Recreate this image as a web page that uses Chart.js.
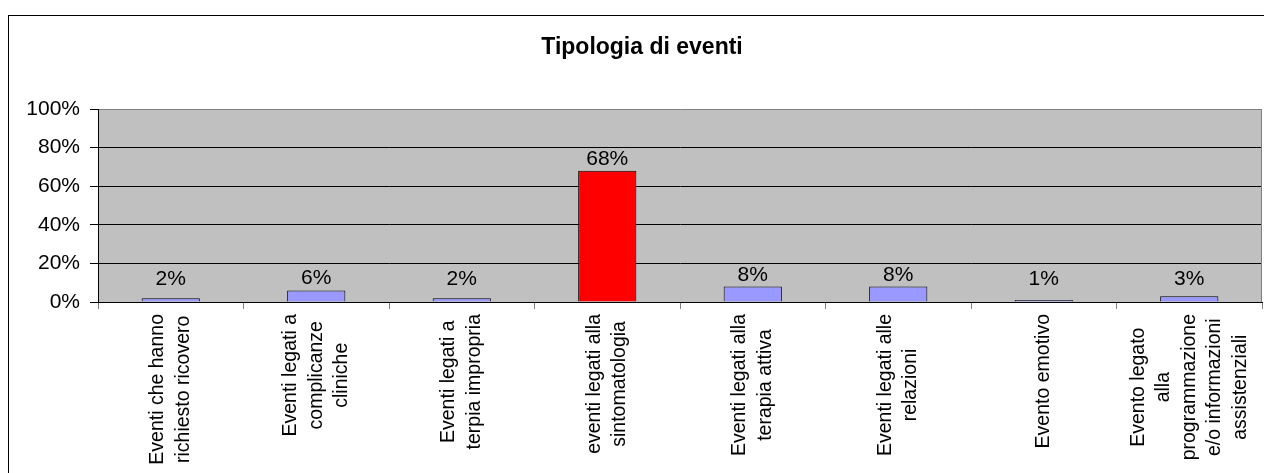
<!DOCTYPE html>
<html>
<head>
<meta charset="utf-8">
<script src="https://cdn.jsdelivr.net/npm/chart.js@4/dist/chart.umd.min.js"></script>
<style>
    html, body { margin: 0; padding: 0; background: #fff; }
    #wrap { width: 1264px; height: 473px; position: relative; }
</style>
</head>
<body>
<div id="wrap"><canvas id="chart"></canvas></div>
<script>
// category labels, one array of lines per bar
const categories = [
    ["Eventi che hanno", "richiesto ricovero"],
    ["Eventi legati a", "complicanze", "cliniche"],
    ["Eventi legati a", "terpia impropria"],
    ["eventi legati alla", "sintomatologia"],
    ["Eventi legati alla", "terapia attiva"],
    ["Eventi legati alle", "relazioni"],
    ["Evento emotivo"],
    ["Evento legato", "alla", "programmazione", "e/o informazioni", "assistenziali"]
];
// percentages
const values = [2, 6, 2, 68, 8, 8, 1, 3];
const yTicks = [0, 20, 40, 60, 80, 100];
const chartTitle = "Tipologia di eventi";

const FONT = "'Liberation Sans', Arial, sans-serif";

//draws white page, outer frame, title and grey plot background
const backgroundPlugin = {
    id: "backgroundPlugin",
    beforeDraw(chart) {
        const ctx = chart.ctx;
        const area = chart.chartArea;
        ctx.save();
        ctx.fillStyle = "#ffffff";
        ctx.fillRect(0, 0, chart.width, chart.height);
        // frame goes past the right and bottom edge, like the cropped original
        ctx.strokeStyle = "#000000";
        ctx.lineWidth = 1;
        ctx.strokeRect(8.5, 15.5, 1268, 520);
        ctx.fillStyle = "#000000";
        ctx.font = "bold 23px " + FONT;
        ctx.textAlign = "center";
        ctx.textBaseline = "alphabetic";
        ctx.fillText(chartTitle, 8 + 1268 / 2, 54);
        ctx.fillStyle = "#C0C0C0";
        ctx.fillRect(area.left, area.top, area.right - area.left, area.bottom - area.top);
        ctx.restore();
    },
    afterDraw(chart) {
        const ctx = chart.ctx;
        const area = chart.chartArea;
        ctx.save();
        //right edge of plot
        ctx.strokeStyle = "#808080";
        ctx.lineWidth = 1;
        ctx.beginPath();
        ctx.moveTo(Math.round(area.right) - 0.5, area.top);
        ctx.lineTo(Math.round(area.right) - 0.5, area.bottom);
        ctx.stroke();
        ctx.restore();
    }
};

//value labels over each bar
const valueLabelPlugin = {
    id: "valueLabelPlugin",
    afterDatasetsDraw(chart) {
        const ctx = chart.ctx;
        const meta = chart.getDatasetMeta(0);
        const zeroY = chart.scales.y.getPixelForValue(0);
        ctx.save();
        ctx.fillStyle = "#000000";
        ctx.font = "21px " + FONT;
        ctx.textAlign = "center";
        ctx.textBaseline = "alphabetic";
        meta.data.forEach((bar, i) => {
            const y = Math.min(bar.y - 6, zeroY - 17);
            ctx.fillText(values[i] + "%", bar.x, y);
        });
        ctx.restore();
    }
};

//rotated multi-line category labels, lines centred on each other
const categoryLabelPlugin = {
    id: "categoryLabelPlugin",
    afterDraw(chart) {
        const ctx = chart.ctx;
        const xScale = chart.scales.x;
        const lineHeight = 25.5;
        ctx.save();
        ctx.fillStyle = "#000000";
        ctx.font = "19.5px " + FONT;
        ctx.textAlign = "center";
        ctx.textBaseline = "middle";
        chart.data.labels.forEach((lines, i) => {
            const x = xScale.getPixelForTick(i);
            const longest = Math.max(...lines.map(l => ctx.measureText(l).width));
            const cy = xScale.top + 12 + longest / 2;
            ctx.save();
            ctx.translate(x, cy);
            ctx.rotate(-Math.PI / 2);
            lines.forEach((line, j) => {
                ctx.fillText(line, 0, (j - (lines.length - 1) / 2) * lineHeight);
            });
            ctx.restore();
        });
        ctx.restore();
    }
};

const chartData = {
    type: "bar",
    data: {
        labels: categories,
        datasets: [
            {
                label: chartTitle,
                data: values,
                backgroundColor: values.map(v => v === Math.max(...values) ? "#FF0000" : "#9999FF"),
                borderColor: "#000000",
                borderWidth: 1,
                barPercentage: 0.8,
                categoryPercentage: 0.5
            }
        ]
    },
    options: {
        responsive: false,
        animation: false,
        devicePixelRatio: 1,
        layout: { padding: { top: 109, right: 2, left: 0, bottom: 0 } },
        plugins: {
            legend: { display: false },
            title: { display: false },
            tooltip: { enabled: false }
        },
        scales: {
            x: {
                offset: true,
                grid: {
                    offset: true,
                    drawOnChartArea: false,
                    drawTicks: true,
                    tickLength: 7,
                    color: "#808080"
                },
                border: { display: true, color: "#000000", width: 1 },
                ticks: { display: false },
                afterFit(scale) { scale.height = 171; }
            },
            y: {
                min: 0,
                max: 100,
                afterBuildTicks(scale) {
                    scale.ticks = yTicks.map(v => ({ value: v }));
                },
                grid: {
                    color: ctx => (ctx.tick && ctx.tick.value === 100) ? "#808080" : "#000000",
                    tickColor: "#000000",
                    tickLength: 8,
                    lineWidth: 1
                },
                border: { display: true, color: "#000000", width: 1 },
                ticks: {
                    color: "#000000",
                    padding: 10,
                    font: { family: FONT, size: 21 },
                    callback: v => v + "%"
                },
                afterFit(scale) { scale.width = 98; }
            }
        }
    },
    plugins: [backgroundPlugin, valueLabelPlugin, categoryLabelPlugin]
};

const canvas = document.getElementById("chart");
canvas.width = 1264;
canvas.height = 473;
new Chart(canvas, chartData);
</script>
</body>
</html>
